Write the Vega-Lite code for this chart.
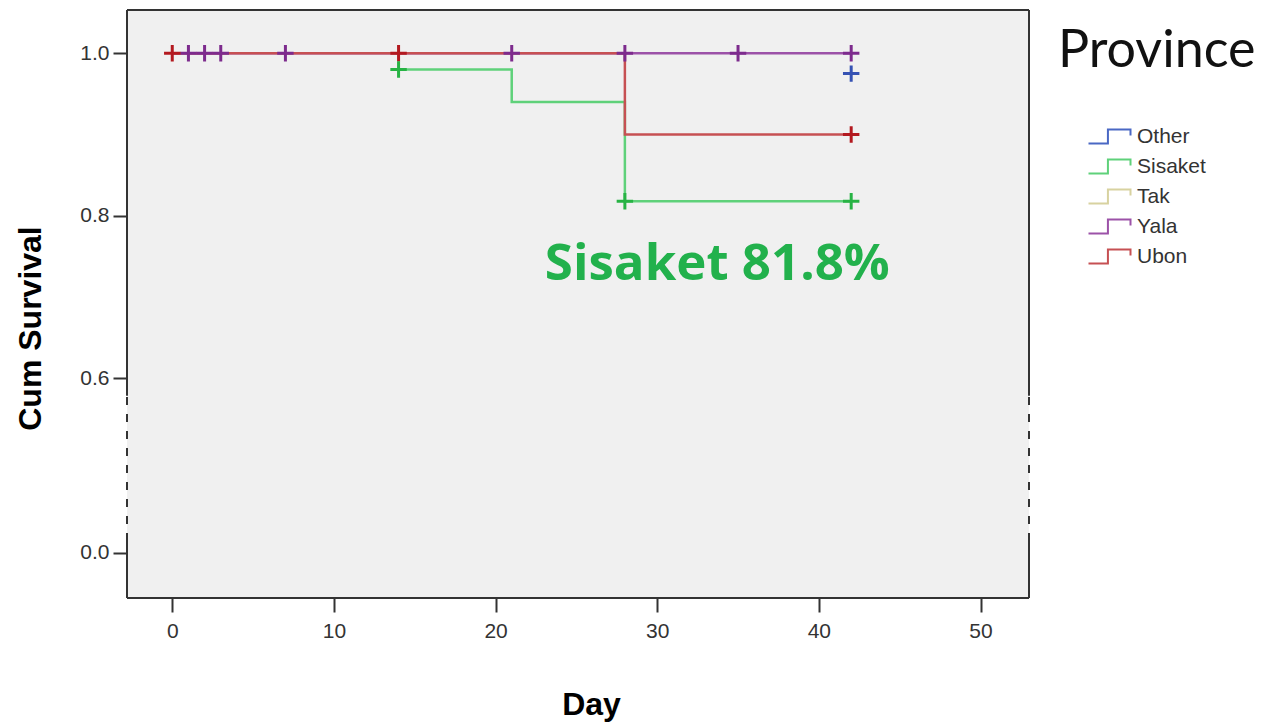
{
  "$schema": "https://vega.github.io/schema/vega-lite/v6.json",
  "width": 902,
  "height": 588,
  "autosize": {"type": "none"},
  "padding": {"left": 127, "top": 10, "right": 239, "bottom": 125},
  "background": "white",
  "config": {
    "view": {"stroke": null, "fill": "#f0f0f0"},
    "axis": {
      "domain": false,
      "grid": false,
      "tickSize": 14,
      "tickWidth": 2,
      "tickColor": "#333333",
      "labelFont": "Liberation Sans",
      "labelFontSize": 21,
      "labelColor": "#333333",
      "titleFont": "Liberation Sans",
      "titleFontSize": 32,
      "titleFontWeight": "bold",
      "titleColor": "#000000"
    }
  },
  "datasets": {
    "frame": [
      {"xa": -2.8, "xb": 53, "ya": 1.0533, "yb": 1.0533},
      {"xa": -2.8, "xb": 53, "ya": -0.0553, "yb": -0.0553},
      {"xa": -2.8, "xb": -2.8, "ya": 0.54, "yb": 1.0533},
      {"xa": -2.8, "xb": -2.8, "ya": -0.0553, "yb": 0.04},
      {"xa": 53, "xb": 53, "ya": 0.54, "yb": 1.0533},
      {"xa": 53, "xb": 53, "ya": -0.0553, "yb": 0.04}
    ],
    "breaks": [
      {"xa": -2.8, "xb": -2.8, "ya": 0.04, "yb": 0.54},
      {"xa": 53, "xb": 53, "ya": 0.04, "yb": 0.54}
    ],
    "curves": [
      {"province": "Yala", "day": 0, "surv": 1.0},
      {"province": "Yala", "day": 42, "surv": 1.0},
      {"province": "Sisaket", "day": 14, "surv": 0.98},
      {"province": "Sisaket", "day": 21, "surv": 0.94},
      {"province": "Sisaket", "day": 28, "surv": 0.818},
      {"province": "Sisaket", "day": 42, "surv": 0.818},
      {"province": "Ubon", "day": 0, "surv": 1.0},
      {"province": "Ubon", "day": 28, "surv": 0.9},
      {"province": "Ubon", "day": 42, "surv": 0.9}
    ],
    "censored": [
      {"province": "Yala", "day": 1, "surv": 1.0},
      {"province": "Yala", "day": 2, "surv": 1.0},
      {"province": "Yala", "day": 3, "surv": 1.0},
      {"province": "Yala", "day": 7, "surv": 1.0},
      {"province": "Yala", "day": 21, "surv": 1.0},
      {"province": "Yala", "day": 28, "surv": 1.0},
      {"province": "Yala", "day": 35, "surv": 1.0},
      {"province": "Yala", "day": 42, "surv": 1.0},
      {"province": "Ubon", "day": 0, "surv": 1.0},
      {"province": "Ubon", "day": 14, "surv": 1.0},
      {"province": "Ubon", "day": 42, "surv": 0.9},
      {"province": "Sisaket", "day": 14, "surv": 0.98},
      {"province": "Sisaket", "day": 28, "surv": 0.818},
      {"province": "Sisaket", "day": 42, "surv": 0.818},
      {"province": "Other", "day": 42, "surv": 0.975}
    ],
    "note": [
      {"day": 23.05, "surv": 0.7208, "label": "Sisaket 81.8%"}
    ]
  },
  "layer": [
    {
      "data": {"name": "frame"},
      "mark": {"type": "rule", "stroke": "#333333", "strokeWidth": 2},
      "encoding": {
        "x": {"field": "xa", "type": "quantitative", "scale": {"domain": [-2.8, 53], "nice": false, "zero": false},
              "axis": {"values": [0, 10, 20, 30, 40, 50], "labelPadding": 8, "title": "Day", "titlePadding": 48, "titleX": 464}},
        "x2": {"field": "xb"},
        "y": {"field": "ya", "type": "quantitative",
              "scale": {"domain": [-0.0553, 0, 0.6, 1.0533], "range": [588, 542.7, 368.3, 0], "nice": false, "zero": false},
              "axis": {"values": [0, 0.6, 0.8, 1.0], "format": ".1f", "labelPadding": 4, "title": "Cum Survival", "titlePadding": 32, "titleY": 318}},
        "y2": {"field": "yb"}
      }
    },
    {
      "data": {"name": "breaks"},
      "mark": {"type": "rule", "stroke": "#333333", "strokeWidth": 2, "strokeDash": [8, 9]},
      "encoding": {
        "x": {"field": "xa", "type": "quantitative"},
        "x2": {"field": "xb"},
        "y": {"field": "ya", "type": "quantitative"},
        "y2": {"field": "yb"}
      }
    },
    {
      "data": {"name": "curves"},
      "mark": {"type": "line", "interpolate": "step-after", "strokeWidth": 2.5},
      "encoding": {
        "x": {"field": "day", "type": "quantitative"},
        "y": {"field": "surv", "type": "quantitative"},
        "color": {
          "field": "province", "type": "nominal",
          "scale": {"domain": ["Other", "Sisaket", "Tak", "Yala", "Ubon"],
                    "range": ["#4a68c4", "#5fd17a", "#d8d2a0", "#9c52a8", "#c65053"]},
          "legend": {
            "title": "Province",
            "orient": "none",
            "legendX": 931,
            "legendY": 16,
            "padding": 0,
            "titleFont": "Lato",
            "titleFontSize": 52,
            "titleFontWeight": "normal",
            "titleColor": "#111111",
            "titleLimit": 500,
            "titlePadding": 47,
            "symbolType": "M-2,0.67H-0.15V-0.67H2V-0.1",
            "symbolSize": 441,
            "symbolStrokeWidth": 2,
            "symbolFillColor": "transparent",
            "symbolOffset": 40,
            "labelOffset": 16,
            "labelFont": "Liberation Sans",
            "labelFontSize": 21,
            "labelColor": "#333333",
            "rowPadding": 7
          }
        },
        "order": {"field": "day", "type": "quantitative"}
      }
    },
    {
      "data": {"name": "censored"},
      "mark": {"type": "point", "shape": "M-1,0H1M0,-1V1", "filled": false, "strokeWidth": 3, "size": 270, "opacity": 1},
      "encoding": {
        "x": {"field": "day", "type": "quantitative"},
        "y": {"field": "surv", "type": "quantitative"},
        "stroke": {
          "field": "province", "type": "nominal",
          "scale": {"domain": ["Other", "Sisaket", "Tak", "Yala", "Ubon"],
                    "range": ["#3552b3", "#27b344", "#cfc68a", "#7d2b8d", "#b3191f"]},
          "legend": null
        }
      }
    },
    {
      "data": {"name": "note"},
      "mark": {"type": "text", "align": "left", "baseline": "alphabetic", "font": "Open Sans", "fontSize": 51, "fontWeight": "bold", "color": "#22b14c"},
      "encoding": {
        "x": {"field": "day", "type": "quantitative"},
        "y": {"field": "surv", "type": "quantitative"},
        "text": {"field": "label"}
      }
    }
  ]
}
